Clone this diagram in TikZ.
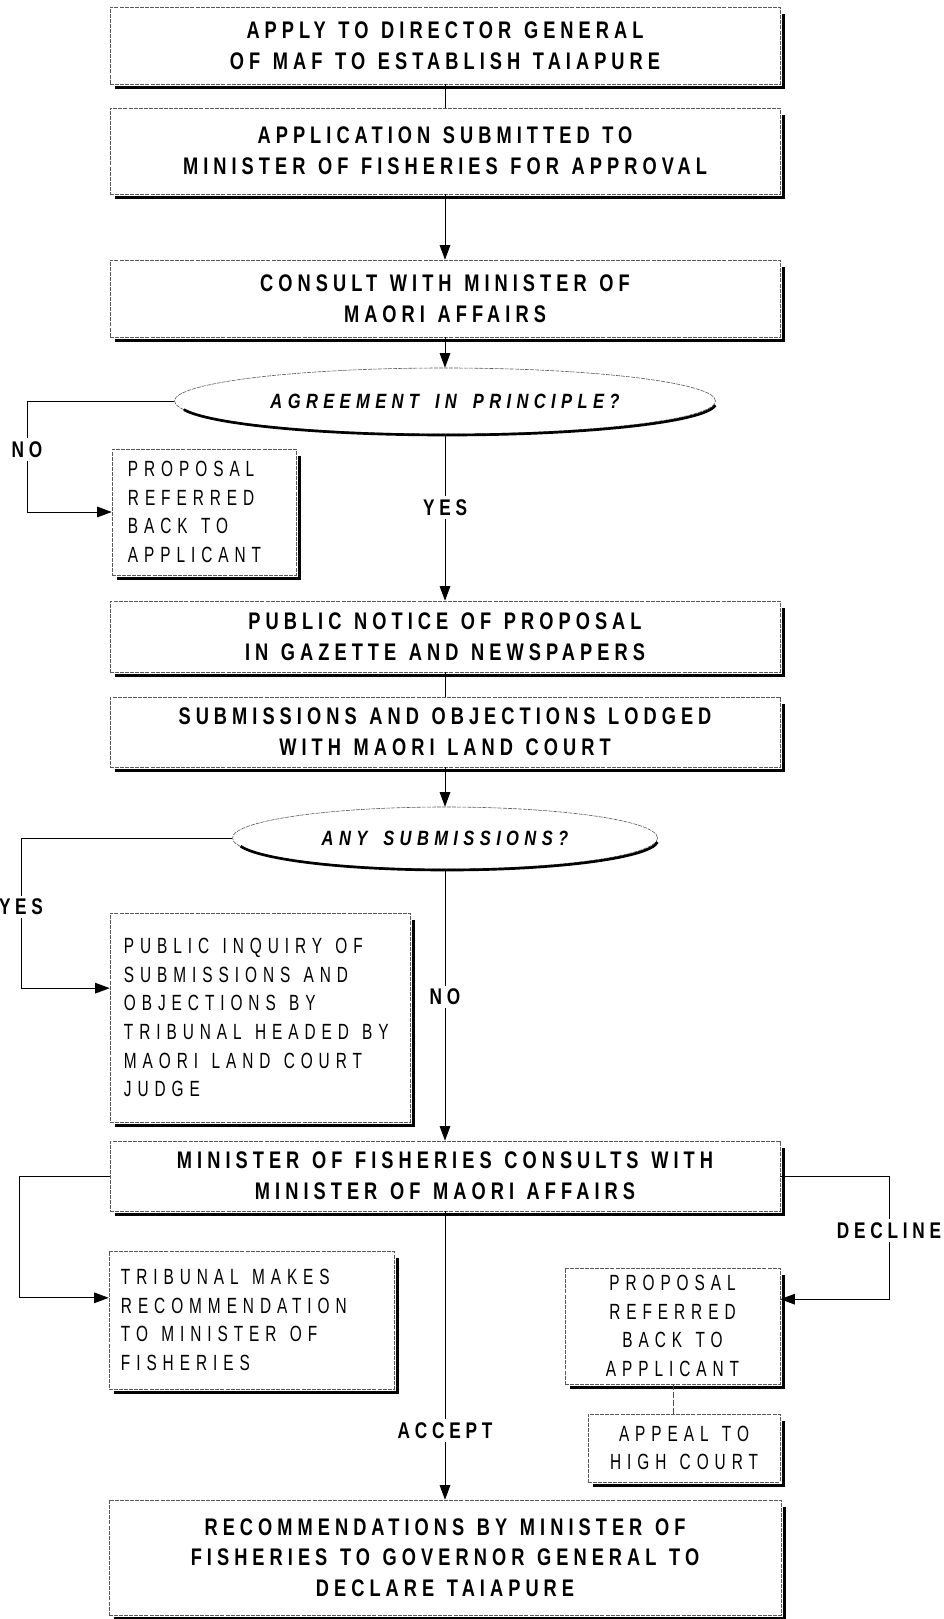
\documentclass[tikz,border=0pt]{standalone}
\usepackage{fontspec}
\usetikzlibrary{arrows.meta,shapes.geometric,calc}
\newfontfamily\headfont{Liberation Sans}[FakeStretch=0.76,LetterSpace=21]
\newfontfamily\thinfont{Liberation Sans}[FakeStretch=0.7,LetterSpace=27]
\newfontfamily\askfont{Liberation Sans}[FakeStretch=0.8,LetterSpace=26,WordSpace=1.6]
\begin{document}
\begin{tikzpicture}[x=0.75pt,y=-0.75pt,
  box/.style={draw=black!65, line width=0.45pt, dash pattern=on 3pt off 0.8pt,
    inner sep=0pt, align=center,
    font={\headfont\bfseries\fontsize{18pt}{23pt}\selectfont\spaceskip=9.5pt\relax}},
  thinbox/.style={box, font={\thinfont\fontsize{16.5pt}{21.5pt}\selectfont\spaceskip=10pt\relax}},
  thintext/.style={inner sep=0pt, align=left, anchor=west,
    font={\thinfont\fontsize{16.5pt}{21.5pt}\selectfont\spaceskip=10pt\relax}},
  ask/.style={ellipse, draw=black!65, line width=0.45pt, dash pattern=on 3pt off 0.8pt,
    inner sep=0pt, font={\askfont\bfseries\itshape\fontsize{15.5pt}{18pt}\selectfont}},
  shade/.style={line width=2.4pt, line join=miter},
  conn/.style={line width=0.7pt},
  arr/.style={conn, -{Triangle[length=11pt,width=8pt]}},
  link/.style={line width=0.5pt, black!70, dash pattern=on 4pt off 2pt},
  lbl/.style={fill=white, inner sep=2.5pt,
    font={\headfont\bfseries\fontsize{17pt}{19pt}\selectfont}}]
\useasboundingbox (0,0) rectangle (943,1619);

% main column of steps
\node[box, minimum width=502.5pt, minimum height=57.75pt] (b1) at (445,45.5)
  {APPLY TO DIRECTOR GENERAL\\OF MAF TO ESTABLISH TAIAPURE};
\node[box, minimum width=502.5pt, minimum height=64.5pt] (b2) at (445,151)
  {APPLICATION SUBMITTED TO\\MINISTER OF FISHERIES FOR APPROVAL};
\node[box, minimum width=502.5pt, minimum height=57.75pt] (b3) at (445,298.5)
  {CONSULT WITH MINISTER OF\\MAORI AFFAIRS};
\node[ask, minimum width=405.75pt, minimum height=49.5pt] (e1) at (445,401)
  {AGREEMENT IN PRINCIPLE?};
\node[box, minimum width=138pt, minimum height=94.5pt] (b4) at (204,512) {};
\node[thintext] (b4t) at ($(b4.west)+(16,0)$)
  {PROPOSAL\\REFERRED\\BACK TO\\APPLICANT};
\node[box, minimum width=502.5pt, minimum height=53.25pt] (b5) at (445,636.5)
  {PUBLIC NOTICE OF PROPOSAL\\IN GAZETTE AND NEWSPAPERS};
\node[box, minimum width=502.5pt, minimum height=52.5pt] (b6) at (445,732)
  {SUBMISSIONS AND OBJECTIONS LODGED\\WITH MAORI LAND COURT};
\node[ask, minimum width=318.75pt, minimum height=46.5pt] (e2) at (445,838)
  {ANY SUBMISSIONS?};
\node[box, minimum width=225pt, minimum height=156.75pt] (b7) at (260,1017.5) {};
\node[thintext] (b7t) at ($(b7.west)+(14,0)$)
  {PUBLIC INQUIRY OF\\SUBMISSIONS AND\\OBJECTIONS BY\\TRIBUNAL HEADED BY\\MAORI LAND COURT\\JUDGE};
\node[box, minimum width=502.5pt, minimum height=52.5pt] (b8) at (445,1176)
  {MINISTER OF FISHERIES CONSULTS WITH\\MINISTER OF MAORI AFFAIRS};
\node[box, minimum width=213.75pt, minimum height=103.5pt] (b9) at (251.5,1320) {};
\node[thintext] (b9t) at ($(b9.west)+(12,0)$)
  {TRIBUNAL MAKES\\RECOMMENDATION\\TO MINISTER OF\\FISHERIES};
\node[thinbox, minimum width=161.25pt, minimum height=87pt] (b10) at (672.5,1326)
  {PROPOSAL\\REFERRED\\BACK TO\\APPLICANT};
\node[thinbox, minimum width=144pt, minimum height=51pt] (b11) at (684,1448)
  {APPEAL TO\\HIGH COURT};
\node[box, minimum width=504pt, minimum height=86.25pt] (b12) at (445,1557.5)
  {RECOMMENDATIONS BY MINISTER OF\\FISHERIES TO GOVERNOR GENERAL TO\\DECLARE TAIAPURE};

% heavy drop shadows along the right and lower edges
\foreach \n in {b1,b2,b3,b4,b5,b6,b7,b8,b9,b10,b11,b12}
  \draw[shade] ($(\n.south west)+(5,3)$) -- ($(\n.south east)+(3,3)$) -- ($(\n.north east)+(3,7)$);
\draw[shade, line width=2pt] ($(e1.center)+(2,2)$) ++(4:269 and 32)
  arc[start angle=4, end angle=168, x radius=269, y radius=32];
\draw[shade, line width=2pt] ($(e2.center)+(2,2)$) ++(4:211 and 30)
  arc[start angle=4, end angle=168, x radius=211, y radius=30];

% connectors
\coordinate (k1) at (27,401);
\coordinate (k2) at (21,838);
\coordinate (k4) at (19,1176);
\coordinate (k5) at (889,1176);

\draw[conn] (b1) -- (b2);
\draw[arr] (b2) -- (b3);
\draw[arr] (b3) -- (e1);
\draw[arr] (e1.west) -- (k1) |- node[lbl, pos=0.22]{NO} (b4.west);
\draw[arr] (e1) -- node[lbl, pos=0.44]{YES} (b5);
\draw[conn] (b5) -- (b6);
\draw[arr] (b6) -- (e2);
\draw[arr] (e2.west) -- (k2) |- node[lbl, pos=0.23]{YES} ($(b7.north west)!0.36!(b7.south west)$);
\draw[arr] (e2) -- node[lbl, pos=0.47]{NO} (b8);
\draw[arr] (b8.west) -- (k4) |- ($(b9.north west)!0.34!(b9.south west)$);
\draw[arr] (b8.east) -- (k5) |- node[lbl, pos=0.22]{DECLINE} ($(b10.north east)!0.27!(b10.south east)$);
\draw[link] (b10.south -| 673,0) -- (b11.north -| 673,0);
\draw[arr] (b8) -- node[lbl, pos=0.76]{ACCEPT} (b12);
\end{tikzpicture}
\end{document}
